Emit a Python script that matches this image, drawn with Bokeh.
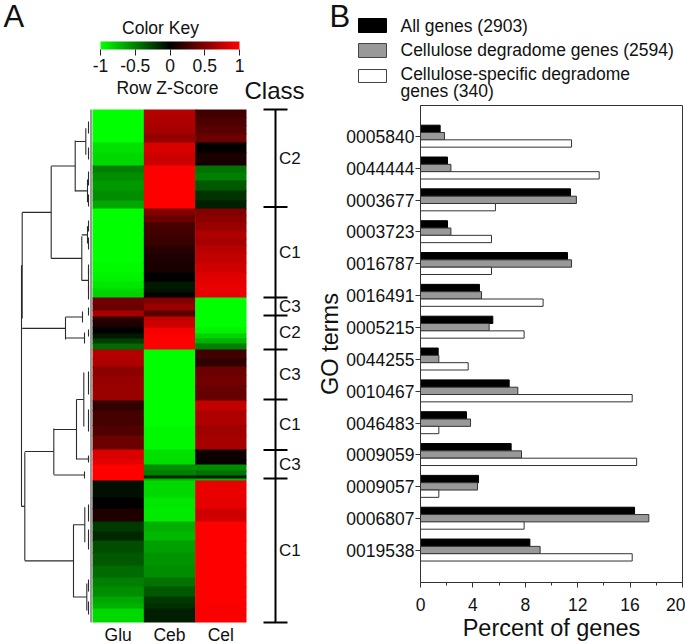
from bokeh.plotting import figure
from bokeh.layouts import row, column
from bokeh.models import (ColumnDataSource, ColorBar, FixedTicker, Label,
                          LinearColorMapper, Range1d)
from bokeh.core.properties import value
from bokeh.transform import transform
from bokeh.embed import file_html
from bokeh.resources import INLINE

FONT = "Liberation Sans"

# ---------- heat map data ----------
columns = ["Glu", "Ceb", "Cel"]
row_sizes = [8, 8, 8, 9, 10, 13, 7, 8, 10, 10, 8, 7, 7, 8, 8, 7, 7, 10, 10, 9, 7, 4, 5,
             6, 7, 6, 4, 7, 6, 5, 5, 6, 9, 8, 9, 10, 15, 10, 15, 10, 14, 10, 5, 6, 5, 3, 2,
             17, 11, 13, 10, 9, 12, 13, 12, 9, 10, 7, 5, 14]
glu = [-1, -1, -1, -1, -.88, -.85, -.5, -.55, -.6, -.55, -.65, -1, -1, -1, -1, -1, -1, -1, -.98, -.95, -.9, -.85, -.82,
       .45, .42, .65, .18, .12, .0, -.1, -.25, -.42, .7, .68, .55, .58, .6, .2, .27, .32, .42, .85, .9, 1, 1, 1, 1,
       -.06, 0, .12, -.22, -.15, -.3, -.35, -.42, -.5, -.55, -.65, -.7, -.85]
ceb = [.7, .68, .65, .58, .85, .8, 1, 1, 1, 1, 1, .5, .42, .28, .25, .22, .15, .12, .1, .0, -.1, -.08, .03,
       .5, .6, .35, .75, .8, .95, 1, 1, 1, -1, -1, -1, -1, -1, -1, -1, -.97, -.97, -.88, -.86, -.55, -.5, -.15, -.7,
       -.85, -.9, -.92, -.68, -.72, -.62, -.58, -.55, -.45, -.35, -.22, -.18, -.12]
cel = [.25, .3, .35, .42, .02, .1, -.45, -.5, -.35, -.2, -.12, .5, .55, .6, .68, .65, .72, .75, .82, .88, .9, .92, .9,
       -1, -1, -1, -1, -1, -.95, -.82, -.7, -.5, .25, .18, .42, .45, .4, .75, .68, .62, .65, .06, .02, -.55, -.45, -.1, -.72,
       .92, .9, .82, 1, 1, 1, 1, 1, 1, 1, 1, .98, .98]

key_ticks = [-1, -0.5, 0, 0.5, 1]
key_colors = (["#%02x%02x00" % (0, 255 - i * 2) for i in range(128)] +
              ["#%02x%02x00" % (i * 2 + 1, 0) for i in range(128)])

# ---------- dendrogram: merge height, first and last row of the merge, parent's height ----------
node_height = [70, 69.3, 40.3, 16.3, 5.7, 4, 9.7, 4, 3, 26, 9, 7, 66.7, 37.7, 15, 7.7, 3, 7, 18, 6.7, 4.7,
               3, 3, 3, 3, 3, 3, 3, 3, 3, 3, 3, 3, 3, 3, 3, 3, 3]
node_first = [156, 103, 56.7, 31, 18.7, 70, 126.7, 116.7, 159, 207.7, 202, 223, 342.7, 319, 290, 263, 346, 362, 415, 397.7, 474,
              12, 38, 62, 85, 111, 128, 155, 176, 198, 220, 262, 300, 395, 420, 470, 492, 347]
node_last = [397, 209, 149, 82, 45.3, 92.7, 171, 134, 182.7, 230, 213, 234, 451, 365, 350, 317, 353, 369, 487.7, 432.7, 501,
             24, 50, 76, 97, 122, 140, 165, 190, 206, 227, 285, 322, 412, 440, 482, 505, 352]
node_parent = [None, 70, 69.3, 40.3, 16.3, 16.3, 40.3, 9.7, 9.7, 69.3, 26, 26, 70, 66.7, 37.7, 15, 15, 37.7, 66.7, 18, 18,
               None, None, None, None, None, None, None, None, None, None, None, None, None, None, None, None, None]

# ---------- class bracket ----------
class_names = ["C2", "C1", "C3", "C2", "C3", "C1", "C3", "C1"]
class_sizes = [97.5, 90.5, 18, 34, 50, 50.5, 28.5, 144]

# ---------- bar chart data ----------
go_terms = ["0005840", "0044444", "0003677", "0003723", "0016787", "0016491", "0005215",
            "0044255", "0010467", "0046483", "0009059", "0009057", "0006807", "0019538"]
all_genes = [1.5, 2.06, 11.45, 2.06, 11.22, 4.5, 5.52, 1.35, 6.77, 3.51, 6.92, 4.43, 16.34, 8.35]
degradome = [1.83, 2.32, 11.9, 2.32, 11.53, 4.66, 5.24, 1.4, 7.43, 3.82, 7.71, 4.35, 17.43, 9.13]
specific = [11.53, 13.64, 5.72, 5.42, 5.42, 9.36, 7.91, 3.64, 16.16, 1.4, 16.5, 1.4, 7.91, 16.16]
x_ticks = [0, 4, 8, 12, 16, 20]
legend_lines = ["All genes (2903)", "Cellulose degradome genes (2594)",
                "Cellulose-specific degradome", "genes (340)"]
swatch_fill = ["black", "#999999", "white"]
swatch_line = ["black", "#444444", "#444444"]

# ========== left panel ==========
W_L, H = 314, 644
COL_PX = 51.33
ROW_TOP = 109
left = figure(width=W_L, height=H, output_backend="svg", toolbar_location=None,
              x_range=Range1d(-92 / COL_PX, (W_L - 92) / COL_PX),
              y_range=Range1d(H - ROW_TOP, -ROW_TOP),
              x_axis_location=None, y_axis_location=None, min_border=0,
              outline_line_color=None, background_fill_color="white", frame_align=False)
left.grid.visible = False

mapper = LinearColorMapper(palette=key_colors, low=-1, high=1)
edges = [0]
for s in row_sizes:
    edges.append(edges[-1] + s)
hl, hr, ht, hb, hv = [], [], [], [], []
for c, vals in enumerate([glu, ceb, cel]):
    for i, v in enumerate(vals):
        hl.append(c); hr.append(c + 1.01 if c < 2 else c + 1)
        ht.append(edges[i]); hb.append(min(edges[i + 1] + 0.7, edges[-1])); hv.append(v)
left.quad(left="l", right="r", top="t", bottom="b",
          source=ColumnDataSource(dict(l=hl, r=hr, t=ht, b=hb, v=hv)),
          fill_color=transform("v", mapper), line_color=None)

# dendrogram on its own x scale (merge height)
left.extra_x_ranges["height"] = Range1d(91, 91 - W_L)
xs, ys = [], []
for h, a, b, parent in zip(node_height, node_first, node_last, node_parent):
    xs.append([h, h]); ys.append([a, b])
    if parent is not None:
        m = (a + b) / 2
        xs.append([h, parent]); ys.append([m, m])
left.segment(x0=[0.5], x1=[0.5], y0=[0], y1=[edges[-1]], x_range_name="height",
             line_color="#9a9a9a", line_width=2)
left.multi_line(xs, ys, x_range_name="height", line_color="#2b2b2b", line_width=1.1)

# class bracket
BR = (275 - 92) / COL_PX
CAP = 12 / COL_PX
ends = [0]
for s in class_sizes:
    ends.append(ends[-1] + s)
left.segment(x0=[BR], x1=[BR], y0=[0], y1=[ends[-1]], line_color="black", line_width=2)
left.segment(x0=[BR - CAP] * len(ends), x1=[BR + CAP] * len(ends), y0=ends, y1=ends,
             line_color="black", line_width=2)
left.text(x=[BR + 3.5 / COL_PX] * len(class_names),
          y=[(ends[i] + ends[i + 1]) / 2 for i in range(len(class_names))],
          text=class_names, text_font=value(FONT), text_font_size="17px",
          text_baseline="middle", text_color="#111111")

# column labels
left.text(x=[i + 0.5 for i in range(3)], y=[525.5] * 3, text=columns, text_font=value(FONT),
          text_font_size="17.5px", text_align="center", text_baseline="middle", text_color="#111111")

# colour key
bar = ColorBar(color_mapper=mapper, orientation="horizontal", location=(100, H - 74), width=139, height=8,
               padding=0, margin=0, ticker=FixedTicker(ticks=key_ticks), major_tick_line_color="#222222",
               major_label_overrides={-1: "-1", -0.5: "-0.5"},
               major_tick_in=0, major_tick_out=6, major_label_text_font=FONT,
               major_label_text_font_size="17.5px", major_label_text_color="#111111",
               label_standoff=3, background_fill_color=None, background_fill_alpha=0,
               bar_line_color=None, border_line_color=None)
left.add_layout(bar, "center")


def note(p, text, x, y, size, **kw):
    p.add_layout(Label(x=x, y=y, text=text, text_font=FONT, text_font_size=size,
                       text_color="#111111", text_baseline="middle", **kw))


note(left, "Color Key", (160 - 92) / COL_PX, 27 - ROW_TOP, "17.5px", text_align="center")
note(left, "Row Z-Score", (167 - 92) / COL_PX, 87 - ROW_TOP, "17.5px", text_align="center")
note(left, "Class", (274 - 92) / COL_PX, 90 - ROW_TOP, "24px", text_align="center")
note(left, "A", (3 - 92) / COL_PX, 16 - ROW_TOP, "31px")

# ========== right panel: legend strip ==========
W_R = 685 - W_L
TOP_H = 104
top = figure(width=W_R, height=TOP_H, output_backend="svg", toolbar_location=None,
             x_range=Range1d(W_L, 685), y_range=Range1d(TOP_H, 0),
             x_axis_location=None, y_axis_location=None, min_border=0,
             outline_line_color=None, frame_align=False)
top.grid.visible = False
top.quad(left=[358] * 3, right=[386] * 3, top=[18, 43, 69], bottom=[32, 57, 82],
         fill_color=swatch_fill, line_color=swatch_line)
top.text(x=[400] * 4, y=[25, 49, 73, 90], text=legend_lines, text_font=value(FONT),
         text_font_size="17.5px", text_baseline="middle", text_color="#111111")
note(top, "B", 329, 16, "31px")

# ========== right panel: bars ==========
TICK0, STEP = 135.5, 31.85
Y_TOP, Y_BOT = (104.5 - TICK0) / STEP, (581.7 - TICK0) / STEP
right = figure(width=W_R, height=H - TOP_H, output_backend="svg", toolbar_location=None,
               x_range=Range1d(0, 20), y_range=Range1d(Y_BOT, Y_TOP),
               min_border_left=102, min_border_right=3, min_border_top=1, min_border_bottom=62,
               outline_line_color="#333333", outline_line_width=1, frame_align=False,
               x_axis_label="Percent of genes", y_axis_label="GO terms")
right.grid.visible = False

ypos = list(range(len(go_terms)))
BH = 0.23
right.hbar(y=[i - 0.24 for i in ypos], right=all_genes, left=0, height=BH, fill_color="black", line_color="black")
right.hbar(y=[i - 0.01 for i in ypos], right=degradome, left=0, height=BH, fill_color="#999999", line_color="#333333")
right.hbar(y=[i + 0.22 for i in ypos], right=specific, left=0, height=BH, fill_color="white", line_color="#333333")

xa, ya = right.xaxis[0], right.yaxis[0]
xa.ticker = FixedTicker(ticks=x_ticks, minor_ticks=[2, 6, 10, 14, 18])
ya.ticker = FixedTicker(ticks=ypos)
ya.major_label_overrides = {i: t for i, t in zip(ypos, go_terms)}
for a in (xa, ya):
    a.axis_line_color = "#333333"
    a.major_tick_line_color = "#333333"
    a.minor_tick_line_color = "#333333"
    a.major_tick_in = 0
    a.major_tick_out = 5
    a.major_label_text_font = FONT
    a.major_label_text_font_size = "17.5px"
    a.major_label_text_color = "#111111"
    a.axis_label_text_font = FONT
    a.axis_label_text_font_size = "23.5px"
    a.axis_label_text_font_style = "normal"
    a.axis_label_text_color = "#111111"
xa.minor_tick_in = 0
xa.minor_tick_out = 3
ya.minor_tick_line_color = None
xa.major_label_standoff = 10
xa.axis_label_standoff = 1
ya.major_label_standoff = 1
ya.axis_label_standoff = 0

page = row(left, column(top, right, spacing=0), spacing=0)
open("out.html", "w").write(file_html(page, INLINE))
